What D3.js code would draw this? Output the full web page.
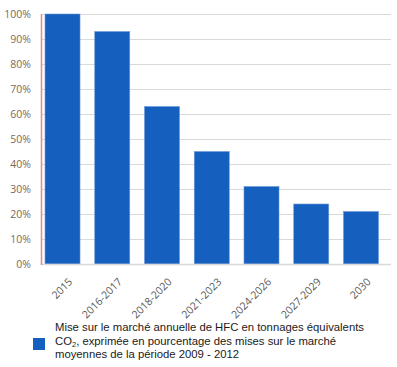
<!DOCTYPE html>
<html>
<head>
<meta charset="utf-8">
<script src="https://cdn.jsdelivr.net/npm/d3@7"></script>
<style>
  body { margin: 0; background: #fff; }
  svg { display: block; }
</style>
</head>
<body>
<div id="chart"></div>
<script>
let categories = ["2015", "2016-2017", "2018-2020", "2021-2023", "2024-2026", "2027-2029", "2030"];
let values     = [100, 93, 63, 45, 31, 24, 21];
let yTicks     = [0, 10, 20, 30, 40, 50, 60, 70, 80, 90, 100];
let legendLines = [
  "Mise sur le marché annuelle de HFC en tonnages équivalents",
  ", exprimée en pourcentage des mises sur le marché",
  "moyennes de la période 2009 - 2012"
];

let width = 397, height = 367;
let plot = { left: 42, right: 391, top: 14, bottom: 264 };

let svg = d3.select("#chart")
  .append("svg")
    .attr("width", width)
    .attr("height", height);

let x = d3.scaleBand()
  .domain(categories)
  .range([45, 378.5])
  .paddingInner(0.296)
  .paddingOuter(0);

let y = d3.scaleLinear()
  .domain([0, 100])
  .range([plot.bottom, plot.top]);

// grid
svg.append("g")
  .selectAll("line")
  .data(yTicks.filter(d => d > 0))
  .join("line")
    .attr("x1", plot.left)
    .attr("x2", plot.right)
    .attr("y1", d => y(d) + 0.5)
    .attr("y2", d => y(d) + 0.5)
    .attr("stroke", "#d9d9d9")
    .attr("stroke-width", 1);

// bars
svg.append("g")
  .selectAll("rect")
  .data(values)
  .join("rect")
    .attr("x", (d, i) => x(categories[i]))
    .attr("y", d => y(d))
    .attr("width", x.bandwidth())
    .attr("height", d => y(0) - y(d))
    .attr("fill", "#155fbe")
    .attr("stroke", "#6b9ad8")
    .attr("stroke-width", 0.6);

// bottom axis line
svg.append("line")
  .attr("x1", plot.left)
  .attr("x2", plot.right)
  .attr("y1", plot.bottom + 0.5)
  .attr("y2", plot.bottom + 0.5)
  .attr("stroke", "#d9d9d9")
  .attr("stroke-width", 1.5);

// left axis (red)
svg.append("line")
  .attr("x1", plot.left - 0.5)
  .attr("x2", plot.left - 0.5)
  .attr("y1", plot.top)
  .attr("y2", plot.bottom + 1)
  .attr("stroke", "#ec8b8f")
  .attr("stroke-width", 1.6);

// y labels
svg.append("g")
  .selectAll("text")
  .data(yTicks)
  .join("text")
    .attr("x", 31)
    .attr("y", d => y(d))
    .attr("dy", "0.35em")
    .attr("text-anchor", "end")
    .attr("font-family", "Open Sans, sans-serif")
    .attr("font-size", 10.5)
    .attr("fill", "#7d6a55")
    .text(d => d + "%");

// x labels
svg.append("g")
  .selectAll("text")
  .data(categories)
  .join("text")
    .attr("transform", d => "translate(" + (x(d) + x.bandwidth() / 2 + 8) + "," + (plot.bottom + 16) + ") rotate(-45)")
    .attr("text-anchor", "end")
    .attr("dy", "0.35em")
    .attr("font-family", "Open Sans, sans-serif")
    .attr("font-size", 10.5)
    .attr("fill", "#595959")
    .text(d => d);

// legend
svg.append("rect")
  .attr("x", 33)
  .attr("y", 338)
  .attr("width", 12)
  .attr("height", 12)
  .attr("fill", "#155fbe");

let legend = svg.append("text")
  .attr("font-family", "Liberation Sans, Arial, sans-serif")
  .attr("font-size", 11.3)
  .attr("fill", "#1a1a1a");

legend.append("tspan")
  .attr("x", 55).attr("y", 331)
  .text(legendLines[0]);

legend.append("tspan")
  .attr("x", 55).attr("y", 344.5)
  .text("CO");
legend.append("tspan")
  .attr("font-size", 7.5)
  .attr("dy", 2)
  .text("2");
legend.append("tspan")
  .attr("dy", -2)
  .text(legendLines[1]);

legend.append("tspan")
  .attr("x", 55).attr("y", 357.5)
  .text(legendLines[2]);
</script>
</body>
</html>
